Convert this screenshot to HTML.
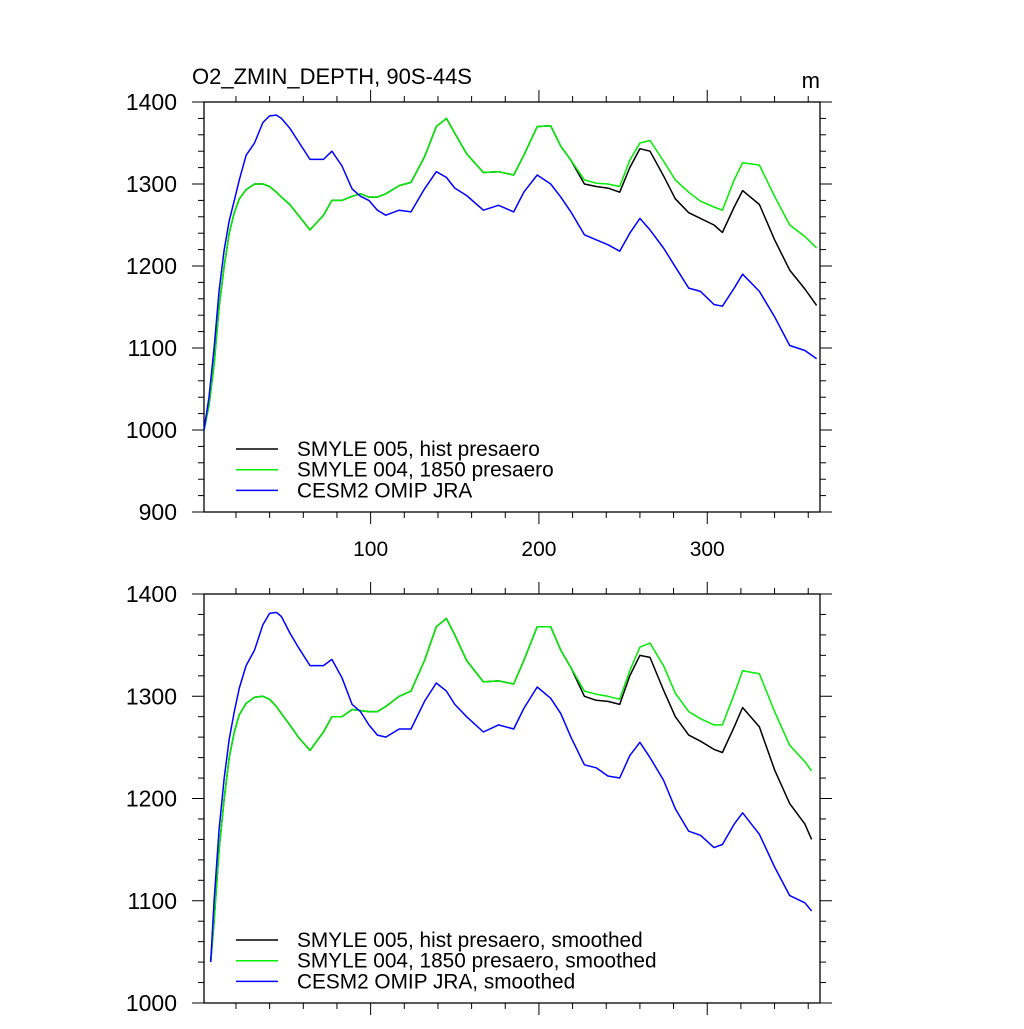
<!DOCTYPE html>
<html><head><meta charset="utf-8"><style>
body{margin:0;background:#fff;}
svg text{font-family:"Liberation Sans",sans-serif;fill:#000;}
</style></head><body>
<svg id="c" width="1024" height="1024" xmlns="http://www.w3.org/2000/svg"></svg>
<script>
const days=[1,4,7,10,13,16,19,22,26,31,36,40,44,47,52,57,64,72,77,83,89,94,99,104,109,117,124,132,139,145,150,157,167,176,185,191,199,207,213,219,227,234,241,248,254,260,266,274,281,289,296,304,309,316,321,331,340,349,358,365];
const topBlue=[1000,1040,1100,1170,1220,1255,1280,1305,1335,1350,1375,1383,1384,1380,1368,1352,1330,1330,1340,1322,1294,1285,1280,1268,1262,1268,1266,1294,1315,1308,1295,1286,1268,1274,1266,1290,1311,1300,1284,1266,1238,1232,1226,1218,1240,1258,1244,1222,1199,1173,1169,1153,1151,1173,1190,1169,1138,1103,1097,1087];
const topGreen=[1000,1030,1080,1150,1200,1240,1265,1282,1293,1300,1300,1297,1290,1284,1275,1262,1244,1262,1280,1280,1285,1288,1284,1284,1288,1298,1302,1333,1370,1380,1362,1337,1314,1315,1311,1335,1370,1371,1346,1329,1305,1301,1300,1297,1329,1350,1353,1328,1305,1290,1279,1272,1268,1305,1326,1323,1285,1250,1236,1222];
const topBlack=[1000,1030,1080,1150,1200,1240,1265,1282,1293,1300,1300,1297,1290,1284,1275,1262,1244,1262,1280,1280,1285,1288,1284,1284,1288,1298,1302,1333,1370,1380,1362,1337,1314,1315,1311,1335,1370,1371,1346,1329,1300,1297,1295,1290,1320,1343,1340,1310,1282,1265,1258,1250,1241,1272,1292,1275,1232,1195,1172,1152];
const smDays=[5,7,10,13,16,19,22,26,31,36,40,44,47,52,57,64,72,77,83,89,94,99,104,109,117,124,132,139,145,150,157,167,176,185,191,199,207,213,219,227,234,241,248,254,260,266,274,281,289,296,304,309,316,321,331,340,349,358,362];
const smBlue=[1040,1100,1170,1220,1258,1285,1308,1330,1345,1370,1381,1382,1378,1362,1348,1330,1330,1336,1318,1292,1285,1272,1262,1260,1268,1268,1295,1313,1305,1292,1280,1265,1272,1268,1288,1309,1298,1283,1260,1233,1230,1222,1220,1242,1255,1240,1218,1190,1168,1164,1152,1155,1175,1186,1165,1133,1105,1098,1090];
const smGreen=[1040,1080,1150,1200,1240,1265,1282,1293,1299,1300,1297,1290,1283,1272,1260,1247,1265,1280,1280,1287,1286,1285,1285,1290,1300,1305,1335,1368,1376,1360,1335,1314,1315,1312,1335,1368,1368,1345,1328,1305,1302,1300,1297,1325,1348,1352,1330,1303,1285,1278,1272,1272,1302,1325,1322,1285,1252,1236,1227];
const smBlack=[1040,1080,1150,1200,1240,1265,1282,1293,1299,1300,1297,1290,1283,1272,1260,1247,1265,1280,1280,1287,1286,1285,1285,1290,1300,1305,1335,1368,1376,1360,1335,1314,1315,1312,1335,1368,1368,1345,1328,1300,1296,1295,1292,1320,1340,1338,1306,1280,1262,1256,1248,1245,1270,1289,1270,1228,1195,1175,1160];
const xTicks=[100,200,300];
const topYTicks=[900,1000,1100,1200,1300,1400];
const botYTicks=[1000,1100,1200,1300,1400];
const topLegend=["SMYLE 005, hist presaero","SMYLE 004, 1850 presaero","CESM2 OMIP JRA"];
const botLegend=["SMYLE 005, hist presaero, smoothed","SMYLE 004, 1850 presaero, smoothed","CESM2 OMIP JRA, smoothed"];
const colors=["#000000","#00ee00","#0000ff"];

const NS="http://www.w3.org/2000/svg";
const svg=document.getElementById('c');
function mk(tag,attrs,parent){const e=document.createElementNS(NS,tag);for(const k in attrs)e.setAttribute(k,attrs[k]);(parent||svg).appendChild(e);return e;}
const L=204,R=820,X0=1,X1=367;
const xs=d=>L+(d-X0)*(R-L)/(X1-X0);

function panel(top,bot,ymin,ymax,yticks,showX,series,legend,legY,name){
  const g=mk('g',{});
  
  
  const ys=v=>bot-(v-ymin)*(bot-top)/(ymax-ymin);
  const fr=mk('rect',{x:L,y:top,width:R-L,height:bot-top,fill:'none',stroke:'#000','stroke-width':1.3},g);
  
  
  for(let d=20;d<=X1;d+=20){
    const maj=d%100===0, len=maj?12:6;
    mk('line',{x1:xs(d),x2:xs(d),y1:bot,y2:bot+len,stroke:'#000','stroke-width':1},g);
    mk('line',{x1:xs(d),x2:xs(d),y1:top,y2:top-len,stroke:'#000','stroke-width':1},g);
  }
  if(showX) xTicks.forEach(t=>{const tx=mk('text',{x:xs(t),y:bot+44,'font-size':21,'text-anchor':'middle'},g);tx.textContent=t;
    
    });
  for(let v=ymin;v<=ymax;v+=20){
    const maj=v%100===0,len=maj?12:6;
    mk('line',{x1:L,x2:L-len,y1:ys(v),y2:ys(v),stroke:'#000','stroke-width':1},g);
    mk('line',{x1:R,x2:R+len,y1:ys(v),y2:ys(v),stroke:'#000','stroke-width':1},g);
  }
  yticks.forEach(t=>{const tx=mk('text',{x:177,y:ys(t)+8,'font-size':23,'text-anchor':'end'},g);tx.textContent=t;
    
    });
  const names=['line-smyle-005','line-smyle-004','line-cesm2-omip'];
  series.forEach((s,i)=>{
    const pts=s.d.map((d,j)=>xs(d).toFixed(1)+','+ys(s.v[j]).toFixed(1)).join(' ');
    const p=mk('polyline',{points:pts,fill:'none',stroke:colors[i],'stroke-width':1.5,'stroke-linejoin':'round'},g);
    
    
  });
  legend.forEach((t,i)=>{
    const y=legY+i*20.7;
    const ln=mk('line',{x1:236,x2:278,y1:y,y2:y,stroke:colors[i],'stroke-width':1.5},g);
    
    
    const tx=mk('text',{x:297,y:y+7,'font-size':20.8},g);tx.textContent=t;
    
    
  });
}
panel(102,512,900,1400,topYTicks,true,[{d:days,v:topBlack},{d:days,v:topGreen},{d:days,v:topBlue}],topLegend,449,'top-panel');
panel(594,1003,1000,1400,botYTicks,false,[{d:smDays,v:smBlack},{d:smDays,v:smGreen},{d:smDays,v:smBlue}],botLegend,940,'bottom-panel');
const t1=mk('text',{x:192,y:84,'font-size':22});t1.textContent='O2_ZMIN_DEPTH, 90S-44S';


const t2=mk('text',{x:820,y:88,'font-size':22,'text-anchor':'end'});t2.textContent='m';


</script>
</body></html>
